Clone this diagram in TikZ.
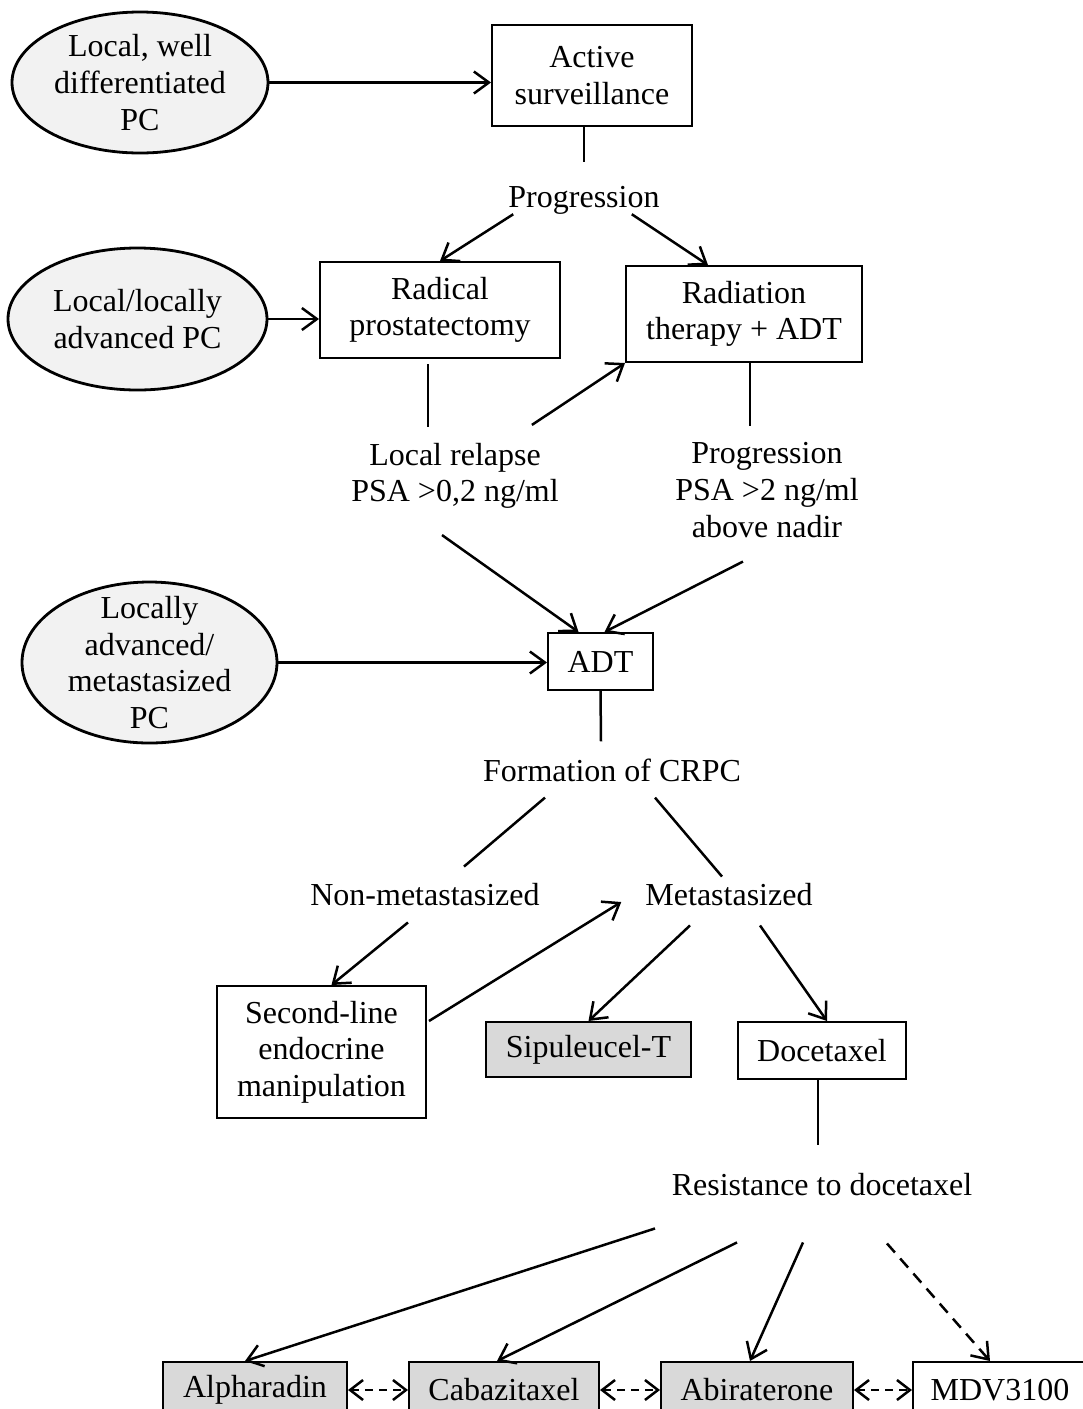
\documentclass[tikz,border=0pt]{standalone}
\usepackage{fontspec}
\setmainfont{Liberation Serif}
\usetikzlibrary{arrows.meta,shapes.geometric}
\definecolor{stagegray}{RGB}{242,242,242}
\definecolor{druggray}{RGB}{217,217,217}

\begin{document}
\begin{tikzpicture}[x=1pt, y=-1pt,
    every node/.style={font=\fontsize{32}{36.6}\selectfont, inner sep=0pt, align=center},
    stage/.style={ellipse, draw, line width=2.8pt, fill=stagegray, inner ysep=-10pt},
    box/.style={rectangle, draw, line width=2pt},
    drug/.style={box, fill=druggray},
    ln/.style={line width=2.5pt},
    arr/.style={ln, -{Straight Barb[length=15pt,width=22pt]}},
    opt/.style={arr, dash pattern=on 12pt off 8pt},
    alt/.style={ln, {Straight Barb[length=13pt,width=20pt]}-{Straight Barb[length=13pt,width=20pt]}, dash pattern=on 8pt off 6pt}
  ]
    \useasboundingbox (0,0) rectangle (1083,1409);
    \clip (0,0) rectangle (1083,1409);

    % Disease stages
    \node[stage, minimum width=256pt, minimum height=141pt] (e1) at (140,82.5)  {Local, well\\differentiated\\PC};
    \node[stage, minimum width=259pt, minimum height=142pt] (e2) at (137.5,319) {Local/locally\\advanced PC};
    \node[stage, minimum width=255pt, minimum height=161pt] (e3) at (149.5,662.5) {Locally\\advanced/\\metastasized\\PC};

    % Treatment boxes
    \node[box, minimum width=200pt, minimum height=101pt] (act) at (592,75.5)  {Active\\surveillance};
    \node[box, minimum width=240pt, minimum height=96pt]  (rp)  at (440,310)   {Radical\\prostatectomy};
    \node[box, minimum width=236pt, minimum height=96pt]  (rt)  at (744,314)   {Radiation\\therapy + ADT};
    \node[box, minimum width=105pt, minimum height=57pt]  (adt) at (600.5,661.5) {ADT};
    \node[box, minimum width=209pt, minimum height=132pt] (sec) at (321.5,1052) {Second-line\\endocrine\\manipulation};
    \node[drug, minimum width=205pt, minimum height=55pt] (sip) at (588.5,1049.5) {Sipuleucel-T};
    \node[box, minimum width=168pt, minimum height=57pt]  (doc) at (822,1050.5) {Docetaxel};

    % Second-line after docetaxel
    \node[drug, minimum width=184pt, minimum height=56pt] (alp) at (255,1390)  {Alpharadin};
    \node[drug, minimum width=190pt, minimum height=56pt] (cab) at (504,1390)  {Cabazitaxel};
    \node[drug, minimum width=192pt, minimum height=56pt] (abi) at (757,1390)  {Abiraterone};
    \node[box, minimum width=174pt, minimum height=56pt]  (mdv) at (1000,1390) {MDV3100};

    % Events
    \node (prg1) at (584,200)  {Progression};
    \node (rel)  at (455,476)  {Local relapse\\PSA >0,2 ng/ml};
    \node (prg2) at (767,490)  {Progression\\PSA >2 ng/ml\\above nadir};
    \node (crpc) at (612,770)  {Formation of CRPC};
    \node (nonm) at (425,895)  {Non-metastasized};
    \node (met)  at (729,895)  {Metastasized};
    \node (res)  at (822,1185) {Resistance to docetaxel};

    % Stage entries
    \draw[arr] (e1.east) -- (e1.east -| act.west);
    \draw[arr] (e2.east) -- (e2.east -| rp.west);
    \draw[arr] (e3.east) -- (e3.east -| adt.west);

    % Local disease
    \draw[ln]  (act.south -| prg1.north) -- ([yshift=24pt]prg1.north);
    \draw[arr] ([xshift=5pt]prg1.south west) -- (rp.north);
    \draw[arr] ([xshift=-28pt]prg1.south east) -- ([xshift=-36pt]rt.north);
    \draw[ln]  ([xshift=-12pt,yshift=-5pt]rp.south) -- ([xshift=-27pt,yshift=16pt]rel.north);
    \draw[ln]  ([xshift=6pt]rt.south) -- ([xshift=-17pt,yshift=16pt]prg2.north);
    \draw[arr] ([xshift=-27pt,yshift=18pt]rel.north east) -- (rt.south west);
    \draw[arr] ([xshift=-13pt,yshift=-26pt]rel.south) -- ([xshift=-22pt]adt.north);
    \draw[arr] ([xshift=-24pt,yshift=-24pt]prg2.south) -- ([xshift=4pt]adt.north);

    % Castration resistance
    \draw[ln]  (adt.south) -- ([xshift=-11pt,yshift=17pt]crpc.north);
    \draw[ln]  ([xshift=-67pt,yshift=-16pt]crpc.south) -- ([xshift=39pt,yshift=17pt]nonm.north);
    \draw[ln]  ([xshift=43pt,yshift=-16pt]crpc.south) -- ([xshift=-7pt,yshift=7pt]met.north);
    \draw[arr] ([xshift=-17pt,yshift=-16pt]nonm.south) -- ([xshift=10pt]sec.north);
    \draw[arr] ([xshift=2pt,yshift=31pt]sec.east) -- ([xshift=-24pt,yshift=-7pt]met.west);
    \draw[arr] ([xshift=-39pt,yshift=-19pt]met.south) -- (sip.north);
    \draw[arr] ([xshift=31pt,yshift=-19pt]met.south) -- ([xshift=5pt]doc.north);
    \draw[ln]  ([xshift=-4pt]doc.south) -- ([xshift=-4pt,yshift=29pt]res.north);

    % After docetaxel
    \draw[arr] ([xshift=-167pt,yshift=-32pt]res.south) -- ([xshift=-10pt]alp.north);
    \draw[arr] ([xshift=-85pt,yshift=-46pt]res.south) -- ([xshift=-7pt]cab.north);
    \draw[arr] ([xshift=-19pt,yshift=-46pt]res.south) -- ([xshift=-7pt]abi.north);
    \draw[opt] ([xshift=65pt,yshift=-47pt]res.south) -- ([xshift=-10pt]mdv.north);
    \draw[alt] (alp.east) -- (cab.west);
    \draw[alt] (cab.east) -- (abi.west);
    \draw[alt] (abi.east) -- (mdv.west);
  \end{tikzpicture}
\end{document}
